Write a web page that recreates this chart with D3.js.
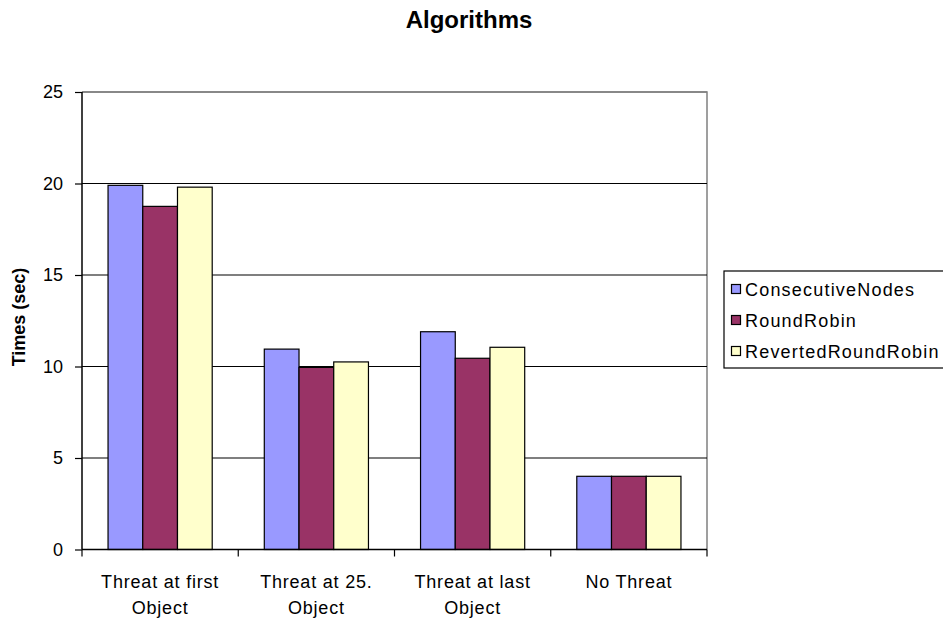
<!DOCTYPE html>
<html><head><meta charset="utf-8">
<script src="https://cdn.jsdelivr.net/npm/d3@7"></script>
<style>body{margin:0;background:#fff}svg{display:block;font-family:"Liberation Sans",Arial,sans-serif}</style>
</head><body><svg id="c" width="943" height="624"></svg>
<script>
const categories = [["Threat at first","Object"],["Threat at 25.","Object"],["Threat at last","Object"],["No Threat"]];
const seriesNames = ["ConsecutiveNodes","RoundRobin","RevertedRoundRobin"];
const consecutiveNodes = [19.9, 10.95, 11.9, 4.0];
const roundRobin = [18.75, 9.95, 10.45, 4.0];
const revertedRoundRobin = [19.8, 10.25, 11.05, 4.0];
const colors = ["#9999FF","#993366","#FFFFCC"];
const yTicks = [0,5,10,15,20,25];

const series = [consecutiveNodes, roundRobin, revertedRoundRobin];
const svg = d3.select("#c");
const L = 82, R = 707, T = 92, B = 549.5;
const x = d3.scaleBand().domain(d3.range(categories.length)).range([L, R]).padding(0);
const y = d3.scaleLinear().domain([0,25]).range([B, T]);
const bw = x.bandwidth()/4.5;

// plot frame (top/right gray)
svg.append("path").attr("d",`M${L},${T}H${R}V${B}`).attr("fill","none").attr("stroke","#808080").attr("stroke-width",1.5);
// gridlines
svg.append("g").selectAll("line").data(yTicks.filter(d=>d>0&&d<25)).join("line")
  .attr("x1",L).attr("x2",R).attr("y1",d=>y(d)).attr("y2",d=>y(d)).attr("stroke","#000").attr("stroke-width",1.2);
svg.append("line").attr("x1",L).attr("x2",R).attr("y1",T).attr("y2",T).attr("stroke","#808080").attr("stroke-width",1.5);

// bars
categories.forEach((c,i)=>{
  series.forEach((s,j)=>{
    svg.append("rect").attr("x",x(i)+0.75*bw+j*bw).attr("y",y(s[i])).attr("width",bw).attr("height",B-y(s[i]))
      .attr("fill",colors[j]).attr("stroke","#000").attr("stroke-width",1.2);
  });
});

// y axis
const ya = svg.append("g").attr("transform",`translate(${L},0)`).call(d3.axisLeft(y).tickValues(yTicks).tickSize(7).tickPadding(12));
ya.select(".domain").attr("stroke","#000").attr("stroke-width",1.5).attr("d",`M0,${T}V${B}`);
ya.selectAll(".tick line").attr("stroke","#000").attr("stroke-width",1.2);
ya.selectAll(".tick text").attr("font-size",18).attr("fill","#000").attr("font-family","Liberation Sans, Arial, sans-serif");

// x axis
const xa = svg.append("g").attr("transform",`translate(0,${B})`);
xa.append("line").attr("x1",L).attr("x2",R).attr("stroke","#000").attr("stroke-width",1.5);
const bounds = d3.range(categories.length+1).map(i=> i<categories.length ? x(i) : R);
xa.selectAll("line.t").data(bounds).join("line").attr("class","t").attr("x1",d=>d).attr("x2",d=>d).attr("y1",0).attr("y2",7).attr("stroke","#000").attr("stroke-width",1.2);
categories.forEach((c,i)=>{
  const t = xa.append("text").attr("x",x(i)+x.bandwidth()/2).attr("y",38.5).attr("text-anchor","middle")
    .attr("font-size",18).attr("letter-spacing",0.8).attr("fill","#000");
  c.forEach((ln,k)=>t.append("tspan").attr("x",x(i)+x.bandwidth()/2).attr("dy",k?26:0).text(ln));
});

// title
svg.append("text").attr("x",469).attr("y",28).attr("text-anchor","middle").attr("font-size",24).attr("font-weight","bold").text("Algorithms");
// y label
svg.append("text").attr("transform",`translate(25,317) rotate(-90)`).attr("text-anchor","middle").attr("font-size",18).attr("font-weight","bold").text("Times (sec)");

// legend
svg.append("rect").attr("x",724).attr("y",271).attr("width",230).attr("height",97).attr("fill","#fff").attr("stroke","#000").attr("stroke-width",1.2);
seriesNames.forEach((n,j)=>{
  const cy = 289 + j*31;
  svg.append("rect").attr("x",731.5).attr("y",cy-4.5).attr("width",9).attr("height",9).attr("fill",colors[j]).attr("stroke","#000").attr("stroke-width",1.2);
  svg.append("text").attr("x",745).attr("y",cy+6.5).attr("font-size",18).attr("letter-spacing",1.2).text(n);
});
</script></body></html>
